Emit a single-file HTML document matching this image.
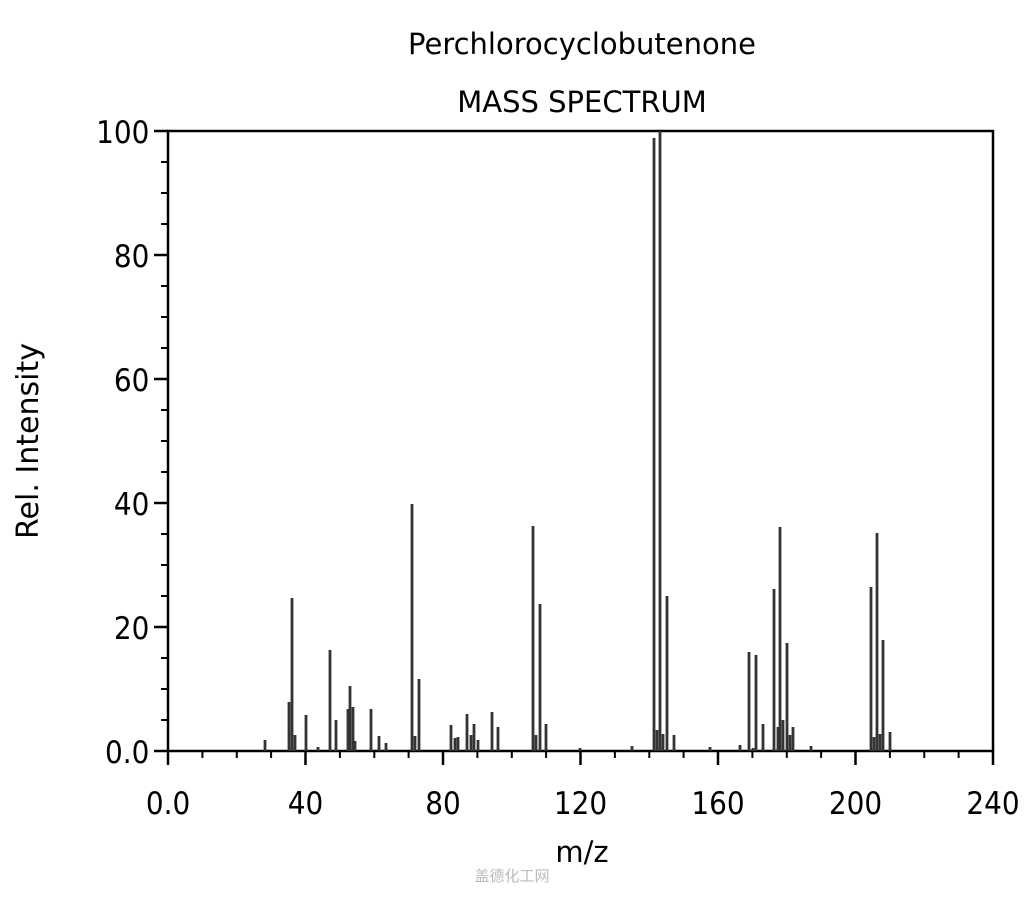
<!DOCTYPE html>
<html><head><style>body{margin:0;background:#fff}svg{display:block}</style></head><body>
<svg width="1024" height="900" xmlns="http://www.w3.org/2000/svg" font-family="DejaVu Sans, Liberation Sans, sans-serif">
<text x="582" y="54" font-size="29" text-anchor="middle">Perchlorocyclobutenone</text>
<text x="582" y="112" font-size="29" text-anchor="middle">MASS SPECTRUM</text>
<rect x="168" y="131" width="825" height="620" fill="none" stroke="#000" stroke-width="2.5"/>
<g stroke="#000" stroke-width="2.5">
<path d="M154 131H168M154 255H168M154 379H168M154 503H168M154 627H168M154 751H168"/>
<path d="M168 751V765M305.5 751V765M443 751V765M580.5 751V765M718 751V765M855.5 751V765M993 751V765"/>
</g>
<g stroke="#000" stroke-width="2">
<path d="M161 162H168M161 193H168M161 224H168M161 286H168M161 317H168M161 348H168M161 410H168M161 441H168M161 472H168M161 534H168M161 565H168M161 596H168M161 658H168M161 689H168M161 720H168"/>
<path d="M202.4 751V758M236.8 751V758M271.1 751V758M339.9 751V758M374.3 751V758M408.6 751V758M477.4 751V758M511.8 751V758M546.1 751V758M614.9 751V758M649.3 751V758M683.6 751V758M752.4 751V758M786.8 751V758M821.1 751V758M889.9 751V758M924.3 751V758M958.6 751V758"/>
</g>
<g font-size="31" text-anchor="end" transform="scale(0.9 1)">
<text x="166" y="143">100</text><text x="166" y="267">80</text><text x="166" y="391">60</text><text x="166" y="515">40</text><text x="166" y="639">20</text><text x="166" y="763">0.0</text>
</g>
<g font-size="31" text-anchor="middle" transform="scale(0.9 1)">
<text x="186.7" y="814">0.0</text><text x="339.4" y="814">40</text><text x="492.2" y="814">80</text><text x="645" y="814">120</text><text x="797.8" y="814">160</text><text x="950.6" y="814">200</text><text x="1103.3" y="814">240</text>
</g>
<text x="582" y="862" font-size="29" text-anchor="middle">m/z</text>
<text transform="translate(38 441) rotate(-90)" font-size="30" text-anchor="middle">Rel. Intensity</text>
<text x="512" y="881" font-size="15" fill="#bbb" text-anchor="middle" font-family="Noto Sans CJK SC, sans-serif">盖德化工网</text>
<g stroke="#333" stroke-width="2.8" id="p"></g>
</svg>
<script>
var d=[[265,740],[289,702],[292,598],[295,735],[306,715],[330,650],[336,720],[348,709],[350,686],[353,707],[355,741],[371,709],[379,736],[386,743],[412,504],[415,736],[419,679],[451,725],[455,738],[458,737],[467,714],[471,735],[474,724],[478,740],[492,712],[498,727],[533,526],[536,735],[540,604],[546,724],[654,138],[657,730],[660,131],[663,734],[667,596],[674,735],[749,652],[753,748],[756,655],[763,724],[774,589],[778,727],[780,527],[783,720],[787,643],[790,735],[793,727],[871,587],[874,737],[877,533],[880,734],[883,640],[890,732],[318,747],[580,748],[632,746],[710,747],[740,745],[811,746]];
var s="";d.forEach(function(p){s+="M"+p[0]+" 751V"+p[1];});
var e=document.createElementNS("http://www.w3.org/2000/svg","path");e.setAttribute("d",s);document.getElementById("p").appendChild(e);
</script>
</body></html>
